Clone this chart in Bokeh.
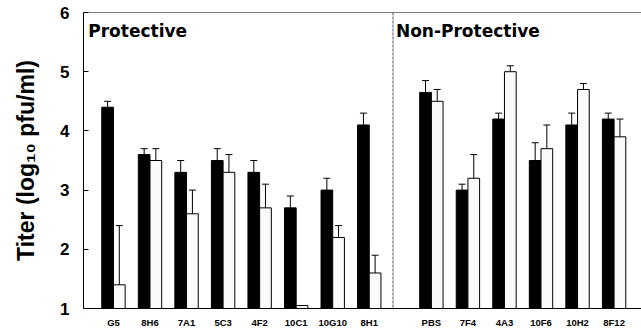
import numpy as np
from bokeh.plotting import figure
from bokeh.models import (ColumnDataSource, Range1d, FixedTicker, Span, Label,
                          Whisker, TeeHead)
from bokeh.embed import file_html
from bokeh.resources import INLINE

# ---------------- data ----------------
protective = ["G5", "8H6", "7A1", "5C3", "4F2", "10C1", "10G10", "8H1"]
non_protective = ["PBS", "7F4", "4A3", "10F6", "10H2", "8F12"]

prot_black = [4.4, 3.6, 3.3, 3.5, 3.3, 2.7, 3.0, 4.1]
prot_black_err = [0.1, 0.1, 0.2, 0.2, 0.2, 0.2, 0.2, 0.2]
prot_white = [1.4, 3.5, 2.6, 3.3, 2.7, 1.05, 2.2, 1.6]
prot_white_err = [1.0, 0.2, 0.4, 0.3, 0.4, 0.0, 0.2, 0.3]

non_black = [4.65, 3.0, 4.2, 3.5, 4.1, 4.2]
non_black_err = [0.2, 0.1, 0.1, 0.3, 0.2, 0.1]
non_white = [4.5, 3.2, 5.0, 3.7, 4.7, 3.9]
non_white_err = [0.2, 0.4, 0.1, 0.4, 0.1, 0.3]

y_ticks = [1, 2, 3, 4, 5, 6]
group_titles = ["Protective", "Non-Protective"]
y_label = "Titer (log\u2081\u2080 pfu/ml)"

# ---------------- layout ----------------
GAP = 1.7
BW = 0.32
labels = protective + non_protective
pos = [float(i) for i in range(len(protective))] + \
      [len(protective) - 1 + GAP + j for j in range(len(non_protective))]
divider = len(protective) - 1 + GAP / 2 - 0.2

black = prot_black + non_black
black_err = prot_black_err + non_black_err
white = prot_white + non_white
white_err = prot_white_err + non_white_err

ymin, ymax = y_ticks[0], y_ticks[-1]
xmin = -0.82

p = figure(width=641, height=333, output_backend="svg", toolbar_location=None,
           x_range=Range1d(xmin, 14.45), y_range=Range1d(ymin, ymax),
           min_border_left=83, min_border_right=0, min_border_top=12,
           min_border_bottom=25)
p.outline_line_color = None
p.xgrid.visible = False
p.ygrid.visible = False
p.background_fill_color = "white"
p.border_fill_color = "white"

xb = [x - BW / 2 for x in pos]
xw = [x + BW / 2 for x in pos]

p.vbar(x=xb, top=black, bottom=ymin, width=BW, fill_color="black",
       line_color="black", line_width=1)
p.vbar(x=xw, top=white, bottom=ymin, width=BW, fill_color="#fafafa",
       line_color="black", line_width=1)

def whisk(xs, vals, errs):
    rows = [(x, v, v + e) for x, v, e in zip(xs, vals, errs) if e > 0]
    src = ColumnDataSource(dict(x=[r[0] for r in rows], lo=[r[1] for r in rows],
                                hi=[r[2] for r in rows]))
    w = Whisker(source=src, base="x", lower="lo", upper="hi",
                upper_head=TeeHead(size=7, line_color="black", line_width=1),
                lower_head=None, line_color="black", line_width=1)
    p.add_layout(w)

whisk(xb, black, black_err)
whisk(xw, white, white_err)

# top border and group divider
p.add_layout(Span(location=ymax, dimension="width", line_color="black",
                  line_width=1))
p.add_layout(Span(location=divider, dimension="height", line_color="#555555",
                  line_width=1, line_dash="3 1"))

for tx, title in [(xmin + 0.13, group_titles[0]), (divider + 0.08, group_titles[1])]:
    p.add_layout(Label(x=tx, y=ymax - 0.14, text=title,
                       text_font="DejaVu Sans", text_font_style="bold",
                       text_font_size="17px", text_baseline="top",
                       text_color="black"))

# axes
p.xaxis.ticker = FixedTicker(ticks=pos)
p.xaxis.major_label_overrides = {x: l for x, l in zip(pos, labels)}
p.xaxis.major_tick_line_color = None
p.xaxis.minor_tick_line_color = None
p.xaxis.major_label_standoff = 2
p.xaxis.major_label_text_font = "Liberation Sans"
p.xaxis.major_label_text_font_style = "bold"
p.xaxis.major_label_text_font_size = "9.5px"
p.xaxis.major_label_text_color = "black"
p.xaxis.axis_line_color = "black"

p.yaxis.ticker = FixedTicker(ticks=y_ticks)
p.yaxis.minor_tick_line_color = None
p.yaxis.major_tick_in = 5
p.yaxis.major_tick_out = 0
p.yaxis.major_label_standoff = 14
p.yaxis.major_label_text_font = "Liberation Sans"
p.yaxis.major_label_text_font_style = "bold"
p.yaxis.major_label_text_font_size = "17px"
p.yaxis.major_label_text_color = "black"
p.yaxis.axis_line_color = "black"
p.yaxis.axis_label = y_label
p.yaxis.axis_label_text_font = "Liberation Sans"
p.yaxis.axis_label_text_font_style = "bold"
p.yaxis.axis_label_text_font_size = "23px"
p.yaxis.axis_label_text_color = "black"
p.yaxis.axis_label_standoff = 18

open("out.html", "w").write(file_html(p, INLINE))
